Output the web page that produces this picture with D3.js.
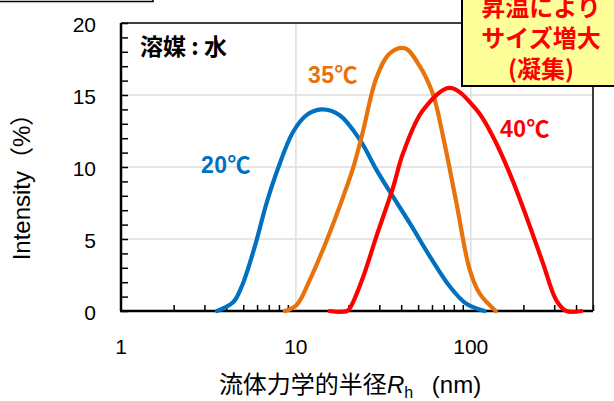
<!DOCTYPE html>
<html>
<head>
<meta charset="utf-8">
<script src="https://cdn.jsdelivr.net/npm/d3@7"></script>
<style>
  html, body { margin: 0; padding: 0; background: #fff; }
  svg { display: block; font-family: "Liberation Sans", "Noto Sans CJK JP", sans-serif; }
</style>
</head>
<body>
<div id="chart"></div>
<script>
// size distribution: [Rh (nm), intensity (%)]
const series20 = [
  [3.54, 0], [4.37, 0.6], [4.9, 1.7], [5.83, 4.5], [6.8, 7.5], [7.9, 9.9],
  [9.6, 12.4], [11.5, 13.6], [14.0, 14.0], [17.8, 13.6], [23.2, 11.9],
  [28.9, 9.8], [34.4, 8.3], [44.8, 6.1], [58.3, 3.8], [75.9, 1.7],
  [94.4, 0.5], [120, 0]
];
const series35 = [
  [8.65, 0], [10.1, 0.42], [12.0, 2.15], [15.0, 4.9], [18.6, 7.9], [21.2, 9.9],
  [24.0, 12.3], [28.9, 16.2], [34.5, 17.9], [42, 18.25], [51.1, 17.0],
  [61, 15.0], [69.5, 12.1], [82.8, 7.5], [98.7, 2.85], [112.5, 1.2], [139, 0]
];
const series40 = [
  [15.6, 0], [19.6, 0], [20.8, 0.4], [24.3, 2.4], [28.9, 5.2], [36, 8.6],
  [41, 10.95], [53.4, 13.96], [75.9, 15.5], [108, 13.96], [134, 12.1],
  [167, 9.56], [208, 6.55], [259, 3.3], [308, 0.76], [352, 0], [429, 0]
];
const seriesNames = ["20℃", "35℃", "40℃"];
const seriesColors = ["#0070c0", "#e8730c", "#ff0000"];
const xTickValues = [1, 10, 100];
const yTickValues = [0, 5, 10, 15, 20];
const noteLines = ["昇温により", "サイズ増大", "(凝集)"];

const width = 614;
const height = 401;
const margin = { top: 23, right: 21, bottom: 90, left: 121 };

const svg = d3.select("#chart")
  .append("svg")
  .attr("width", width)
  .attr("height", height);

const x = d3.scaleLog().domain([1, 500]).range([margin.left, width - margin.right]);
const y = d3.scaleLinear().domain([0, 20]).range([height - margin.bottom, margin.top]);

// fragment of a box cut off at the top left
svg.append("rect")
  .attr("x", -5).attr("y", -40)
  .attr("width", 158).attr("height", 41.5)
  .attr("fill", "#fff").attr("stroke", "#000").attr("stroke-width", 1.5);

// gridlines
const grid = svg.append("g").attr("stroke", "#dedede").attr("stroke-width", 1.5);
grid.selectAll(".gy")
  .data([5, 10, 15])
  .join("line")
  .attr("x1", x.range()[0]).attr("x2", x.range()[1])
  .attr("y1", (d) => y(d)).attr("y2", (d) => y(d));
grid.selectAll(".gx")
  .data([10, 100])
  .join("line")
  .attr("x1", (d) => x(d)).attr("x2", (d) => x(d))
  .attr("y1", y.range()[0]).attr("y2", y.range()[1]);

// plot frame (top and right)
svg.append("path")
  .attr("d", `M${x.range()[0]},${y(20)}H${x.range()[1]}V${y(0)}`)
  .attr("fill", "none").attr("stroke", "#000").attr("stroke-width", 1.5);

// minor ticks, inside
const xMinor = [];
[1, 10, 100].forEach((dec) => {
  for (let k = 2; k <= 9; k++) {
    if (dec * k <= 500) xMinor.push(dec * k);
  }
});
svg.append("g")
  .attr("transform", `translate(0,${y(0)})`)
  .call(d3.axisBottom(x).tickValues(xMinor).tickSize(-6).tickFormat(""))
  .call((g) => g.select(".domain").remove())
  .call((g) => g.selectAll("line").attr("stroke-width", 1.5));

svg.append("g")
  .attr("transform", `translate(${x(1)},0)`)
  .call(d3.axisLeft(y).tickValues(d3.range(0, 21, 1)).tickSize(-7).tickFormat(""))
  .call((g) => g.select(".domain").remove())
  .call((g) => g.selectAll("line").attr("stroke-width", 1.5));

// axis lines
svg.append("line")
  .attr("x1", x.range()[0] - 1).attr("x2", x.range()[1])
  .attr("y1", y(0)).attr("y2", y(0))
  .attr("stroke", "#000").attr("stroke-width", 2.5);
svg.append("line")
  .attr("x1", x(1)).attr("x2", x(1))
  .attr("y1", y(0)).attr("y2", y(20))
  .attr("stroke", "#000").attr("stroke-width", 2.5);

// tick labels
svg.append("g")
  .selectAll("text")
  .data(yTickValues)
  .join("text")
  .attr("x", 96)
  .attr("y", (d) => y(d) + 8.5)
  .attr("text-anchor", "end")
  .attr("font-size", 21)
  .attr("fill", "#000")
  .text((d) => d);

svg.append("g")
  .selectAll("text")
  .data(xTickValues)
  .join("text")
  .attr("x", (d) => x(d))
  .attr("y", 354)
  .attr("text-anchor", "middle")
  .attr("font-size", 21)
  .attr("fill", "#000")
  .text((d) => d);

// axis titles
svg.append("text")
  .attr("transform", "translate(30,181) rotate(-90)")
  .attr("text-anchor", "middle")
  .attr("font-size", 24)
  .text("Intensity（%）");

const xTitle = svg.append("text")
  .attr("x", 350)
  .attr("y", 393)
  .attr("text-anchor", "middle")
  .attr("font-size", 24);
xTitle.append("tspan").text("流体力学的半径");
xTitle.append("tspan").attr("font-style", "italic").text("R");
xTitle.append("tspan").attr("font-size", 16).attr("dy", 5).text("h");
xTitle.append("tspan").attr("dy", -5).attr("dx", 12).text(" (nm)");

// curves
const line = d3.line()
  .x((d) => x(d[0]))
  .y((d) => y(d[1]))
  .curve(d3.curveCatmullRom.alpha(0.5));

svg.append("g")
  .selectAll("path")
  .data([series20, series35, series40])
  .join("path")
  .attr("d", line)
  .attr("fill", "none")
  .attr("stroke", (d, i) => seriesColors[i])
  .attr("stroke-width", 4.2)
  .attr("stroke-linejoin", "round")
  .attr("stroke-linecap", "round");

// series labels
const labelPos = [[201, 173], [308, 83], [500, 137]];
svg.append("g")
  .selectAll("text")
  .data(seriesNames)
  .join("text")
  .attr("x", (d, i) => labelPos[i][0])
  .attr("y", (d, i) => labelPos[i][1])
  .attr("font-size", 23)
  .attr("font-weight", "bold")
  .attr("letter-spacing", 0.5)
  .attr("fill", (d, i) => seriesColors[i])
  .text((d) => d);

// solvent note
svg.append("text")
  .attr("x", 140)
  .attr("y", 55)
  .attr("font-size", 23)
  .attr("font-weight", "bold")
  .attr("font-family", "Noto Sans CJK JP")
  .text("溶媒 : 水");

// yellow callout
svg.append("rect")
  .attr("x", 462).attr("y", -20)
  .attr("width", 170).attr("height", 106)
  .attr("fill", "#ffff99")
  .attr("stroke", "#000").attr("stroke-width", 2);

svg.append("g")
  .selectAll("text")
  .data(noteLines)
  .join("text")
  .attr("x", 541)
  .attr("y", (d, i) => 5 + i * 31)
  .attr("dominant-baseline", "central")
  .attr("text-anchor", "middle")
  .attr("font-size", 24)
  .attr("font-weight", "bold")
  .attr("font-family", "Noto Sans CJK JP")
  .attr("fill", "#ff0000")
  .text((d) => d);
</script>
</body>
</html>
